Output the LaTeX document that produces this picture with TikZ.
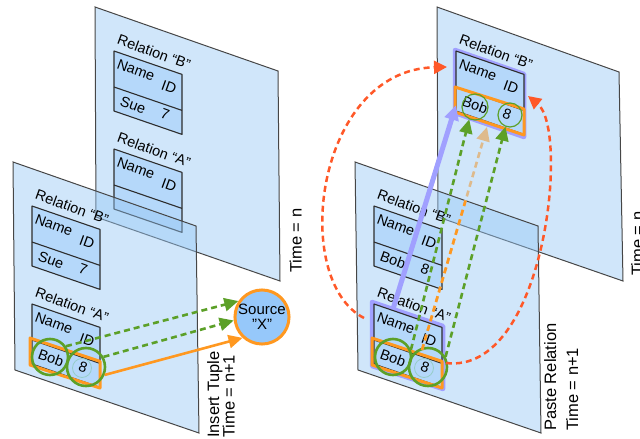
\documentclass[tikz,border=0pt]{standalone}
\usepackage{fontspec}
\setmainfont{Liberation Sans}
\usetikzlibrary{arrows.meta}
\definecolor{planefill}{RGB}{150,200,245}
\definecolor{cellfill}{RGB}{181,216,250}
\definecolor{edgegray}{RGB}{70,70,70}
\definecolor{cellline}{RGB}{45,45,45}
\definecolor{orng}{RGB}{255,152,32}
\definecolor{grn}{RGB}{92,160,40}
\definecolor{prpl}{RGB}{160,160,255}
\definecolor{redor}{RGB}{255,88,40}
\definecolor{tanc}{RGB}{222,186,140}
\definecolor{srcfill}{RGB}{150,200,250}
\definecolor{faint}{RGB}{150,205,200}
\tikzset{
  plane/.style={draw=edgegray, line width=1pt, fill=planefill, fill opacity=0.45},
  cell/.style={draw=cellline, line width=1.1pt, fill=cellfill, line join=round},
  divider/.style={draw=cellline, line width=1.1pt},
  ptext/.style={font=\fontsize{14.5}{16}\selectfont, inner sep=0pt, rotate=340},
  vlab/.style={font=\fontsize{16.5}{18}\selectfont, rotate=90, inner sep=0pt, anchor=north west},
  rowbox/.style={draw=orng, line width=3pt, line join=round},
  purplebox/.style={draw=prpl, line width=4.5pt, line join=round},
  gcirc/.style={circle, draw=grn, line width=2.6pt, inner sep=0pt},
  gsmall/.style={circle, draw=grn, line width=1.2pt, inner sep=0pt},
  fcirc/.style={circle, draw=faint, line width=0.8pt, inner sep=0pt, minimum size=19pt},
  srcnode/.style={circle, draw=orng, fill=srcfill, line width=3pt, minimum size=50pt, inner sep=0pt, align=center, font=\fontsize{15}{15.5}\selectfont},
  headtri/.style={-{Triangle[length=14pt,width=13pt]}},
  garrow/.style={headtri, draw=grn, line width=2.6pt, dash pattern=on 6pt off 4pt},
  oarrow/.style={headtri, draw=orng, line width=2.6pt},
  tarrow/.style={headtri, draw=tanc, line width=2.6pt, dash pattern=on 6pt off 4pt},
  tline/.style={draw=orng, line width=2.6pt, dash pattern=on 6pt off 4pt},
  parrow/.style={-{Triangle[length=15pt,width=14pt]}, draw=prpl, line width=5pt},
  rarrow/.style={-{Triangle[length=13pt,width=13pt]}, draw=redor, line width=2.5pt, dash pattern=on 6pt off 4pt},
}
% #1 name prefix, #2 x, #3 y, #4 relation letter, #5 first cell, #6 second cell
\newcommand{\reltab}[6]{%
  \path[cell, shift={(#2,#3)}] (0,0) -- (68,23.4) -- (68,83.4) -- (0,60) -- cycle;
  \path[divider, shift={(#2,#3)}] (0,36) -- (68,59.4);
  \node[ptext] (#1lab) at ([shift={(40,1)}]#2,#3) {Relation “#4”};
  \node[ptext] (#1name) at ([shift={(22,19)}]#2,#3) {Name};
  \node[ptext] (#1id) at ([shift={(55,36)}]#2,#3) {ID};
  \node[ptext] (#1ca) at ([shift={(19,54)}]#2,#3) {#5};
  \node[ptext] (#1cb) at ([shift={(51,63)}]#2,#3) {#6};
}
\begin{document}
\begin{tikzpicture}[x=1pt,y=-1pt]
\useasboundingbox (0,0) rectangle (640,439);
% ---------- left: back plane (time n)
\path[plane] (95,7) -- (278,71) -- (280,281) -- (96,217) -- cycle;
\reltab{bLB}{114}{51}{B}{Sue}{7}
\reltab{bLA}{114}{149}{A}{}{}
% ---------- left: front plane (time n+1)
\path[plane] (13,162) -- (196,226) -- (199,433) -- (15,370) -- cycle;
\reltab{fLB}{32}{206}{B}{Sue}{7}
\reltab{fLA}{32}{304}{A}{Bob}{8}
\draw[rowbox, shift={(32,304)}] (-2,34) -- (68,57.4) -- (68,84) -- (-2,61) -- cycle;
\node[fcirc] (fLi) at (82,368) {};
\node[gcirc, minimum size=36pt] (bobL) at (50,357) {};
\node[gcirc, minimum size=38pt] (eightL) at (86,367) {};
\node[srcnode] (src) at (262,317) {Source\\"X"};
\draw[garrow] (bobL.34) -- (src.146);
\draw[garrow] (eightL.30) -- (src.187);
\draw[oarrow] (eightL.-23) -- (src.227);
% ---------- right: back plane (time n)
\path[plane] (437,7) -- (619,72) -- (623,281) -- (438,217) -- cycle;
\draw[purplebox, shift={(456,51)}] (-1,-1) -- (68,23) -- (68,86) -- (-1,62) -- cycle;
\reltab{bRB}{456}{51}{B}{Bob}{8}
\draw[rowbox, shift={(456,51)}] (-1,36) -- (68,58) -- (68,84) -- (-1,61) -- cycle;
\node[gsmall, minimum size=26pt] (bobB) at (475,107) {};
\node[gsmall, minimum size=24pt] (eightB) at (510,115) {};
% ---------- right: front plane (time n+1)
\path[plane] (355,162) -- (538,226) -- (541,433) -- (358,370) -- cycle;
\reltab{fRB}{374}{206}{B}{Bob}{8}
\draw[purplebox, shift={(374,304)}] (-2,-2) -- (69,22) -- (69,85) -- (-2,62) -- cycle;
\reltab{fRA}{374}{304}{A}{Bob}{8}
\draw[rowbox, shift={(374,304)}] (-2,34) -- (68,57.4) -- (68,84) -- (-2,61) -- cycle;
\node[fcirc] (fRi) at (424,368) {};
\node[gcirc, minimum size=36pt] (bobR) at (393,357) {};
\node[gcirc, minimum size=38pt] (eightR) at (428,367) {};
% ---------- right: connectors
\coordinate (pS) at (393,309);
\coordinate (pE) at (456,105);
\coordinate (tS) at (422,350);
\coordinate (tE) at (487,127);
\coordinate (lS) at (364,318);
\coordinate (lE) at (447,67);
\coordinate (rS) at (446,363);
\coordinate (rE) at (528,96);
\draw[tarrow] (tS) -- (tE);
\begin{scope}
  \clip (355,162) -- (538,226) -- (541,433) -- (358,370) -- cycle;
  \draw[tline] (tS) -- (tE);
\end{scope}
\draw[garrow] (bobR.22) -- (bobB.245);
\draw[garrow] (eightR.30) -- (eightB.249);
\draw[parrow] (pS) -- (pE);
\draw[rarrow] (lS) .. controls (290,280) and (315,70) .. (lE);
\draw[rarrow] (rS) .. controls (545,375) and (570,130) .. (rE);
% ---------- vertical labels
\node[vlab] (tnL) at (289.5,273) {Time = n};
\node[vlab] (tnR) at (631,276) {Time = n};
\node[vlab] (insL) at (207,438) {Insert Tuple};
\node[vlab] (tiL) at (222.5,438) {Time = n+1};
\node[vlab] (pasR) at (544,431) {Paste Relation};
\node[vlab] (tiR) at (566,431) {Time = n+1};
\end{tikzpicture}
\end{document}
